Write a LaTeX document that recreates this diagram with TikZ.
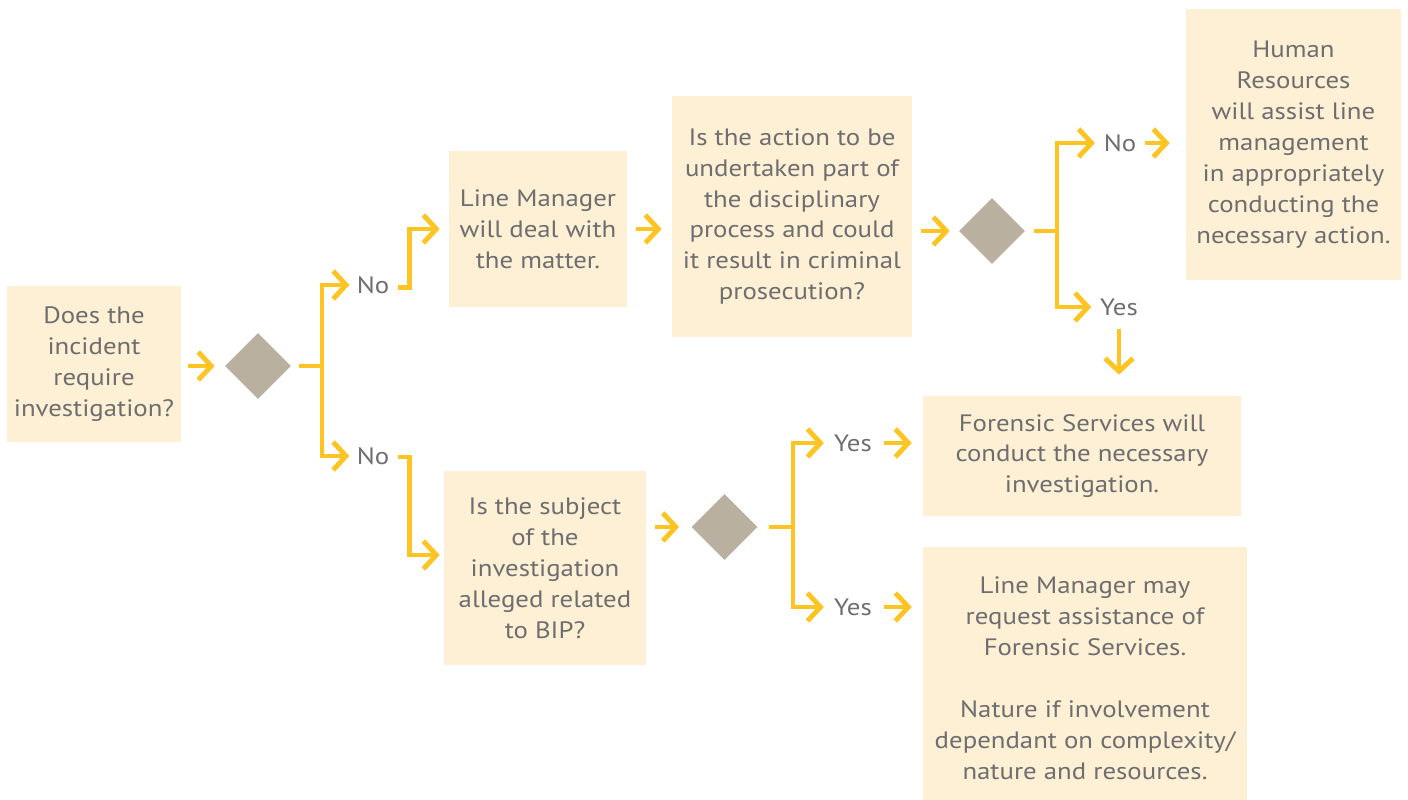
\documentclass[tikz,border=0pt]{standalone}
\usepackage{fontspec}
\setmainfont{PT Sans}[FakeStretch=1.13]
\usepackage{tikz}
\usetikzlibrary{positioning}
\usetikzlibrary{shapes,arrows.meta}
\definecolor{cream}{RGB}{254,240,212}
\definecolor{amber}{RGB}{253,196,35}
\definecolor{stone}{RGB}{186,176,160}
\definecolor{slate}{RGB}{110,110,112}
\tikzstyle{block} = [rectangle, fill=cream, text=slate, align=center,
    font=\fontsize{13.5}{17.6}\selectfont, inner sep=0pt]
\tikzstyle{decision} = [diamond, fill=stone, minimum width=1.32cm,
    minimum height=1.32cm, inner sep=0pt]
\tikzstyle{answer} = [text=slate, font=\fontsize{13.5}{17.6}\selectfont, inner sep=2pt]
\tikzstyle{line} = [draw=amber, line width=2.8pt, -{Straight Barb[length=0.26cm,width=0.56cm]}]
\tikzstyle{stem} = [draw=amber, line width=2.8pt]

\begin{document}
\begin{tikzpicture}[x=0.02cm, y=-0.02cm]
        \useasboundingbox (0,0) rectangle (1408,800);
            % Nodes
        \node [block, minimum width=3.5cm, minimum height=3.12cm] (start) at (94,364)
            {Does the\\incident\\require\\investigation?};
        \node [decision] (d1) at (258,366) {};
        \coordinate (j1) at (322,366);
        \node [answer] (no1) at (373,285) {No};
        \node [answer] (no2) at (373,456) {No};
        \node [block, minimum width=3.56cm, minimum height=3.12cm] (deal) at (538,229)
            {Line Manager\\will deal with\\the matter.};
        \node [block, minimum width=4.04cm, minimum height=3.88cm] (subject) at (545,568)
            {Is the subject\\of the\\investigation\\alleged related\\to BIP?};
        \node [block, minimum width=4.82cm, minimum height=4.82cm] (action) at (792,216.5)
            {Is the action to be\\undertaken part of\\the disciplinary\\process and could\\it result in criminal\\prosecution?};
        \node [decision] (d2) at (992,231) {};
        \coordinate (j2) at (1057,231);
        \node [answer] (no3) at (1120,143) {No};
        \node [answer] (yes1) at (1119,307) {Yes};
        \node [block, minimum width=4.3cm, minimum height=5.42cm] (hr) at (1293.5,144.5)
            {Human\\Resources\\will assist line\\management\\in appropriately\\conducting the\\necessary action.};
        \node [block, minimum width=6.36cm, minimum height=2.4cm] (forensic) at (1082,456)
            {Forensic Services will\\conduct the necessary\\investigation.};
        \node [decision] (d3) at (724.5,527) {};
        \coordinate (j3) at (793,527);
        \node [answer] (yes2) at (853,443) {Yes};
        \node [answer] (yes3) at (853,607) {Yes};
        \node [block, minimum width=6.48cm, minimum height=5.24cm] (assist) at (1085,678)
            {Line Manager may\\request assistance of\\Forensic Services.\\[17.6pt]Nature if involvement\\dependant on complexity/\\nature and resources.};
            % Edges
        \path [line, shorten <=0.12cm, shorten >=0.2cm] (start.east |- d1) -- (d1);
        \path [stem, shorten <=0.16cm] (d1) -- (j1);
        \path [line, shorten >=0.07cm] (j1) |- (no1);
        \path [line, shorten >=0.07cm] (j1) |- (no2);
        \path [line, shorten <=0.09cm, shorten >=0.18cm] ([yshift=-0.05cm]no1.east) -- ++(16,0) |- (deal);
        \path [line, shorten <=0.09cm, shorten >=0.08cm] ([yshift=-0.02cm]no2.east) -- ++(16,0) |- ([yshift=0.26cm]subject.west);
        \path [line, shorten <=0.18cm, shorten >=0.19cm] (deal.east) -- (deal.east -| action.west);
        \path [line, shorten <=0.17cm, shorten >=0.18cm] (d2 -| action.east) -- (d2);
        \path [stem, shorten <=0.18cm] (d2) -- (j2);
        \path [line, shorten >=0.1cm] (j2) |- (no3);
        \path [line, shorten >=0.1cm] (j2) |- (yes1);
        \path [line, shorten <=0.1cm, shorten >=0.32cm] (no3) -- (no3 -| hr.west);
        \path [line, shorten <=0.2cm, shorten >=0.42cm] (yes1) -- (yes1 |- forensic.north);
        \path [line, shorten <=0.18cm, shorten >=0.24cm] (d3 -| subject.east) -- (d3);
        \path [stem, shorten <=0.22cm] (d3) -- (j3);
        \path [line, shorten >=0.13cm] (j3) |- (yes2);
        \path [line, shorten >=0.13cm] (j3) |- (yes3);
        \path [line, shorten <=0.17cm, shorten >=0.22cm] (yes2) -- (yes2 -| forensic.west);
        \path [line, shorten <=0.17cm, shorten >=0.22cm] (yes3) -- (yes3 -| assist.west);
    \end{tikzpicture}
\end{document}
